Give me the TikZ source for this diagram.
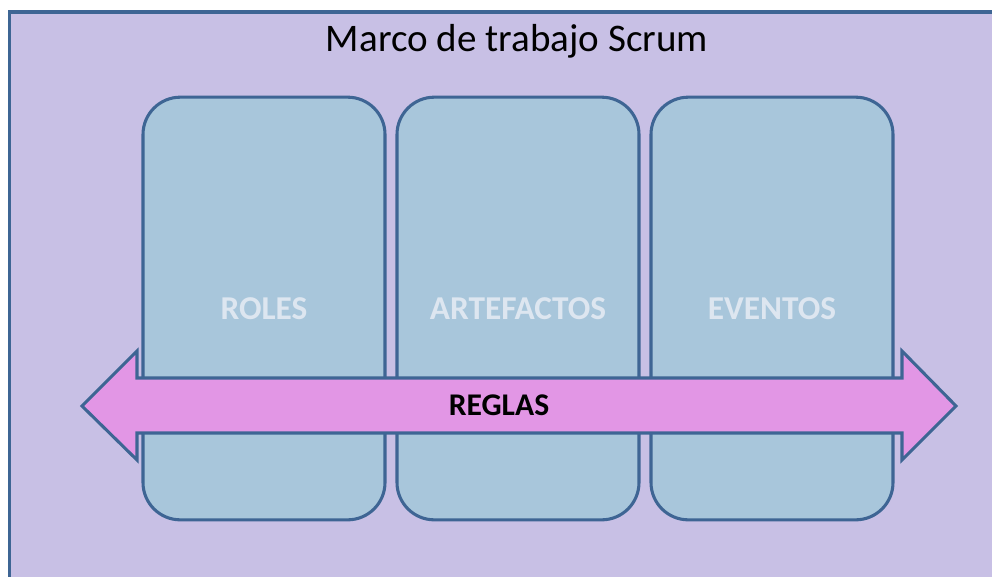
\documentclass[tikz,border=0pt]{standalone}
\usepackage{fontspec}
\setmainfont{Carlito}
\usetikzlibrary{positioning}
\definecolor{marco}{RGB}{200,192,229}
\definecolor{borde}{RGB}{62,101,148}
\definecolor{caja}{RGB}{168,198,219}
\definecolor{regla}{RGB}{226,150,229}
\definecolor{rotulo}{RGB}{221,230,240}
\begin{document}
\begin{tikzpicture}[x=0.75pt,y=-0.75pt,
    caja/.style={draw=borde,line width=2.3pt,fill=caja,rounded corners=28pt,outer sep=0pt,
        minimum width=181.5pt,minimum height=317pt,text=rotulo,
        font=\fontsize{25}{29}\selectfont\bfseries},
    flecha/.style={draw=borde,fill=regla,line width=2.3pt,line join=miter}]
    \useasboundingbox(0,0)rectangle(992,576);
    \clip(0,0)rectangle(992,576);
    % fondo del marco
    \draw[draw=borde,fill=marco,line width=2.3pt](9.5,12)rectangle(1010,600);
    \node[anchor=base,font=\fontsize{29.3}{33}\selectfont](titulo)at(517,51){Marco de trabajo Scrum};
    % columnas
    \node[caja](roles)at(264,308.5){ROLES};
    \node[caja,right=9pt of roles](artefactos){ARTEFACTOS};
    \node[caja,right=9pt of artefactos](eventos){EVENTOS};
    % flecha doble
    \draw[flecha](82,406)--(137,351)--(137,378)--(902,378)--(902,351)--(956,406)--(902,460)--(902,433)--(137,433)--(137,460)--cycle;
    \node[font=\fontsize{23.7}{27}\selectfont\bfseries](reglas)at(499,405){REGLAS};
\end{tikzpicture}
\end{document}
